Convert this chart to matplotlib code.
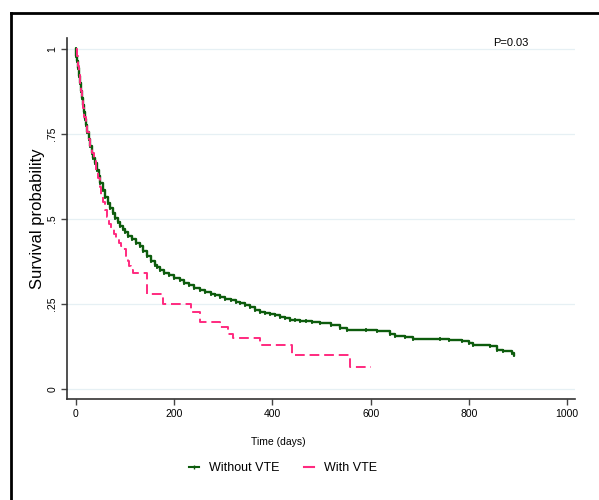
import matplotlib.pyplot as plt
from matplotlib.lines import Line2D

plt.rcParams['font.family'] = ['Liberation Sans', 'DejaVu Sans']

# Kaplan-Meier estimates
t_without = [0, 1, 2, 4, 6, 8, 10, 12, 14, 16, 18, 20, 23, 26, 29, 32, 35, 38, 42, 46,
             50, 55, 60, 65, 70, 75, 80, 85, 90, 95, 100, 107, 115, 122, 130, 137, 145,
             152, 160, 166, 171, 180, 190, 200, 212, 221, 230, 241, 252, 263, 275, 284,
             293, 304, 315, 325, 334, 345, 355, 365, 375, 385, 395, 405, 415, 425, 435,
             445, 456, 468, 480, 497, 520, 538, 552, 590, 613, 640, 650, 670, 686, 741,
             760, 786, 800, 809, 843, 857, 870, 888, 892]
s_without = [1, .98, .965, .945, .92, .90, .875, .855, .835, .815, .795, .775, .755, .735,
             .715, .695, .68, .665, .645, .625, .605, .585, .565, .548, .532, .517, .503,
             .49, .48, .47, .46, .45, .44, .43, .42, .405, .39, .377, .365, .357, .35,
             .342, .335, .327, .32, .312, .305, .298, .29, .285, .28, .275, .27, .265,
             .26, .256, .253, .246, .24, .233, .227, .223, .22, .216, .212, .207, .203,
             .201, .20, .198, .196, .194, .188, .18, .174, .172, .171, .162, .156, .152,
             .147, .147, .144, .141, .135, .129, .126, .115, .11, .105, .10]

t_with = [0, 2, 4, 6, 8, 10, 12, 14, 17, 20, 23, 26, 29, 32, 36, 40, 44, 48, 52, 56, 60,
          64, 68, 72, 77, 82, 88, 92, 96, 101, 105, 109, 112, 116, 144, 178, 235, 253,
          293, 310, 320, 375, 440, 558, 600]
s_with = [1, .98, .95, .925, .90, .875, .85, .825, .80, .775, .755, .735, .715, .695, .67,
          .645, .62, .595, .57, .55, .525, .505, .485, .47, .455, .445, .43, .42, .41, .39,
          .375, .36, .35, .34, .28, .25, .227, .197, .183, .16, .15, .129, .10, .065, .065]

p_text = 'P=0.03'
green = '#0d5c0d'
pink = '#ff2a7f'

fig = plt.figure(figsize=(5.99, 5.0), dpi=100)
ax = fig.add_axes([0.112, 0.202, 0.848, 0.722])

for yv in [0, .25, .5, .75, 1]:
    ax.axhline(yv, color='#e6f0f4', lw=0.9, zorder=0)

ax.step(t_without, s_without, where='post', color=green, lw=1.7, zorder=3)
ax.plot(t_without, s_without, ls='none', marker='|', ms=3.5, mew=1.2, color=green, zorder=3)
ax.step(t_with, s_with, where='post', color=pink, lw=1.4, dashes=(5, 2.5), zorder=4)

ax.set_xlim(-18, 1016)
ax.set_ylim(-0.03, 1.032)
ax.set_xticks([0, 200, 400, 600, 800, 1000])
ax.set_yticks([0, .25, .5, .75, 1])
ax.set_yticklabels(['0', '.25', '.5', '.75', '1'], rotation=90, va='center')
ax.tick_params(labelsize=7.5, length=4, width=1, color='#444444', pad=3)
for side in ['top', 'right']:
    ax.spines[side].set_visible(False)
for side in ['left', 'bottom']:
    ax.spines[side].set_color('#333333')
    ax.spines[side].set_linewidth(1.2)

ax.set_ylabel('Survival probability', fontsize=12)
ax.yaxis.set_label_coords(-0.043, 0.5)
ax.set_xlabel('Time (days)', fontsize=7.5)
ax.xaxis.set_label_coords(0.415, -0.105)
ax.text(850, 1.018, p_text, fontsize=8, va='center', ha='left')

handles = [Line2D([], [], color=green, lw=1.5, marker='|', ms=3, markevery=[1]),
           Line2D([], [], color=pink, lw=1.5)]
fig.legend(handles, ['Without VTE', 'With VTE'], loc='center',
           bbox_to_anchor=(283 / 599, 1 - 468 / 500), ncol=2, frameon=False,
           fontsize=9, handlelength=0.8, columnspacing=2.0, handletextpad=0.8)

# outer frame from the screenshot (top and left only)
fig.add_artist(Line2D([10.5 / 599, 10.5 / 599], [0, 1 - 12.5 / 500], color='black', lw=2,
                      transform=fig.transFigure))
fig.add_artist(Line2D([10.5 / 599, 1], [1 - 12.5 / 500, 1 - 12.5 / 500], color='black', lw=2,
                      transform=fig.transFigure))

fig.savefig('out.png', dpi=100)
